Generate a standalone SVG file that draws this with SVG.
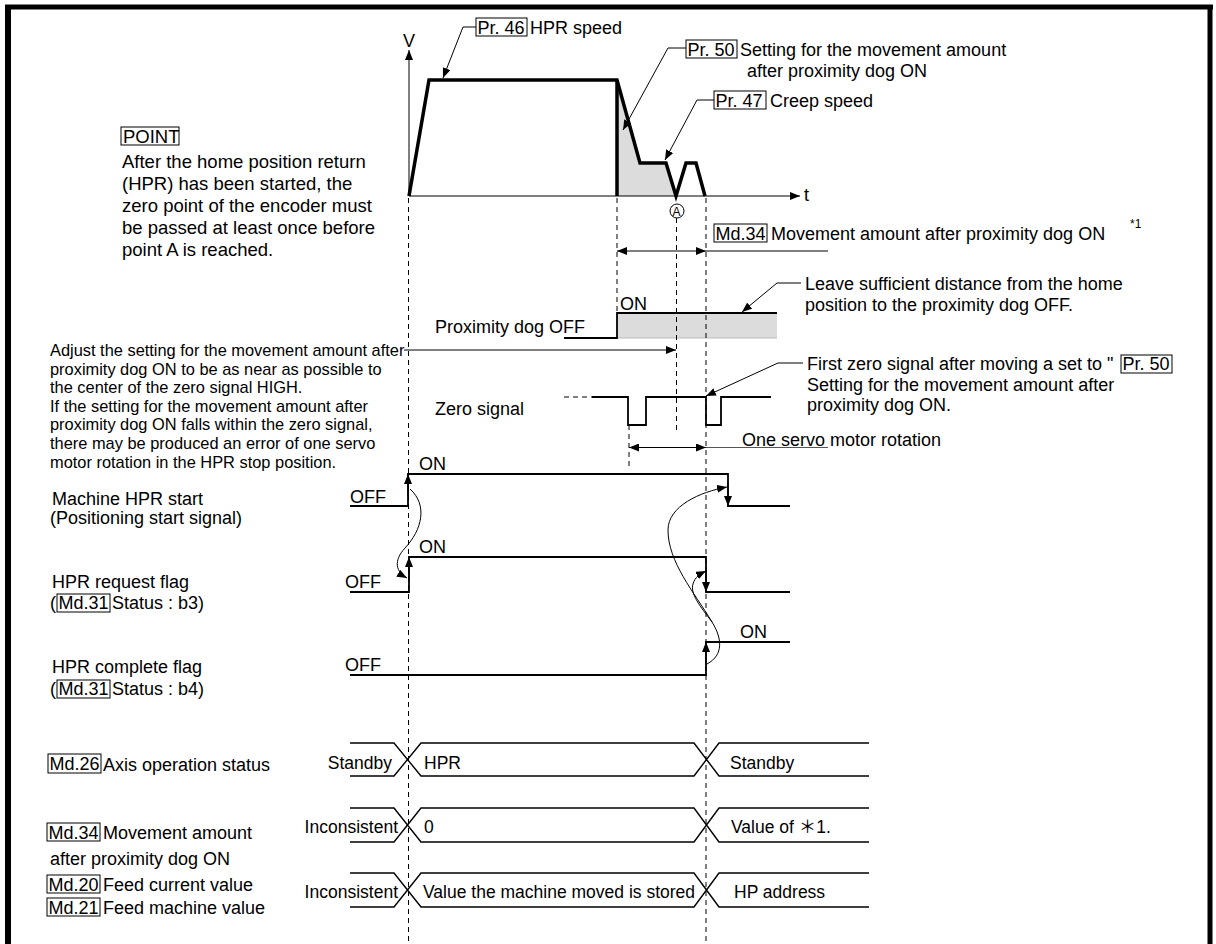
<svg xmlns="http://www.w3.org/2000/svg" width="1216" height="944" viewBox="0 0 1216 944">
<defs>
<style>
text{font-family:"Liberation Sans",Arial,"Noto Sans CJK JP",sans-serif;fill:#000;font-size:18px}
.s{font-size:16.4px}
.p{font-size:18.5px}
.r{font-size:17.5px}
.sm{font-size:12px}
.box{fill:none;stroke:#000;stroke-width:1}
.thin{fill:none;stroke:#000;stroke-width:1}
.sig{fill:none;stroke:#000;stroke-width:1.8}
.bus{fill:none;stroke:#000;stroke-width:1.4}
.dash{fill:none;stroke:#000;stroke-width:1;stroke-dasharray:5 4}
.grey{fill:#dcdcdc;stroke:none}
</style>
<marker id="ah" markerUnits="userSpaceOnUse" markerWidth="10" markerHeight="8" refX="10" refY="4" orient="auto-start-reverse" viewBox="0 0 10 8">
<path d="M0,0 L10,4 L0,8 Z" fill="#000"/>
</marker>
</defs>
<rect width="1216" height="944" fill="#fff"/>
<g id="frame">
<line x1="5" y1="7" x2="1213" y2="7" stroke="#000" stroke-width="5"/>
<line x1="8" y1="5" x2="8" y2="944" stroke="#000" stroke-width="6"/>
<line x1="1210" y1="5" x2="1210" y2="944" stroke="#000" stroke-width="5"/>
</g>
<g id="speed-chart">
<polygon class="grey" points="617,80 640,163 666,163 676,196 617,196"/>
<line class="thin" x1="409" y1="196" x2="409" y2="50" stroke-width="1.2" marker-end="url(#ah)"/>
<line class="thin" x1="409" y1="196" x2="800" y2="196" stroke-width="1.2" marker-end="url(#ah)"/>
<path d="M409,196 L429,80 L617,80 L640,163 L666,163 L676,196 L686,163 L696,163 L705,196" fill="none" stroke="#000" stroke-width="3.5" stroke-linejoin="miter"/>
<line x1="617" y1="80" x2="617" y2="196" stroke="#000" stroke-width="3.5"/>
<text x="403" y="47">V</text>
<text x="804" y="201">t</text>
<circle cx="677" cy="211" r="7" fill="#fff" stroke="#000" stroke-width="1"/>
<text x="672.5" y="215.5" class="sm">A</text>
</g>
<g id="label-pr46">
<rect class="box" x="476" y="18" width="51" height="18"/>
<text x="477.5" y="33.5">Pr. 46</text>
<text x="530" y="33.5">HPR speed</text>
</g>
<g id="label-pr50">
<rect class="box" x="686" y="40" width="51" height="18"/>
<text x="687.5" y="55.5">Pr. 50</text>
<text x="740" y="55.5">Setting for the movement amount</text>
<text x="747" y="77">after proximity dog ON</text>
</g>
<g id="label-pr47">
<rect class="box" x="714" y="91" width="52" height="18"/>
<text x="715.5" y="106.5">Pr. 47</text>
<text x="770" y="106.5">Creep speed</text>
</g>
<g id="point-note">
<rect class="box" x="121" y="127" width="58" height="18"/>
<text class="p" x="123" y="142.5">POINT</text>
<text class="p" x="122" y="168">After the home position return</text>
<text class="p" x="122" y="190">(HPR) has been started, the</text>
<text class="p" x="122" y="212">zero point of the encoder must</text>
<text class="p" x="122" y="234">be passed at least once before</text>
<text class="p" x="122" y="256">point A is reached.</text>
</g>
<g id="label-md34-top">
<rect class="box" x="714" y="224" width="53" height="18"/>
<text x="715.5" y="239.5">Md.34</text>
<text x="771" y="239.5">Movement amount after proximity dog ON</text>
<text class="sm" x="1130" y="228">*1</text>
</g>
<g id="proximity-dog">
<rect class="grey" x="617" y="313" width="160" height="25"/>
<line x1="617" y1="338" x2="777" y2="338" stroke="#bbb" stroke-width="1"/>
<path class="sig" d="M564,338 H617 V313 H777" stroke-width="1.6"/>
<text x="435" y="333">Proximity dog OFF</text>
<text x="620" y="310">ON</text>
<text x="805" y="290">Leave sufficient distance from the home</text>
<text x="805" y="311">position to the proximity dog OFF.</text>
</g>
<g id="adjust-note">
<text class="s" x="50" y="356">Adjust the setting for the movement amount after</text>
<text class="s" x="50" y="374.6">proximity dog ON to be as near as possible to</text>
<text class="s" x="50" y="393.2">the center of the zero signal HIGH.</text>
<text class="s" x="50" y="411.8">If the setting for the movement amount after</text>
<text class="s" x="50" y="430.4">proximity dog ON falls within the zero signal,</text>
<text class="s" x="50" y="449">there may be produced an error of one servo</text>
<text class="s" x="50" y="467.6">motor rotation in the HPR stop position.</text>
</g>
<g id="zero-signal">
<line class="dash" x1="564" y1="397" x2="592" y2="397" stroke-width="1.4"/>
<path class="sig" d="M592,397 H628 V425 H646 V397 H706 V425 H721 V397 H771" stroke-width="1.6"/>
<text x="435" y="415">Zero signal</text>
<text x="807" y="370">First zero signal after moving a set to "</text>
<rect class="box" x="1121" y="355" width="51" height="18"/>
<text x="1122.5" y="370">Pr. 50</text>
<text x="807" y="391">Setting for the movement amount after</text>
<text x="807" y="411">proximity dog ON.</text>
<text x="742" y="446">One servo motor rotation</text>
</g>
<g id="signal-hpr-start">
<path class="sig" d="M350,506 H408 V474 H728 V506 H790"/>
<text x="350" y="503">OFF</text>
<text x="419" y="470">ON</text>
<text x="52" y="505">Machine HPR start</text>
<text x="50" y="524">(Positioning start signal)</text>
</g>
<g id="signal-hpr-request">
<path class="sig" d="M350,592 H409 V557 H706 V592 H790"/>
<text x="345" y="588">OFF</text>
<text x="419" y="553">ON</text>
<text x="52" y="588">HPR request flag</text>
<text x="50" y="609">(</text>
<rect class="box" x="57" y="594" width="53" height="18"/>
<text x="58.5" y="609">Md.31</text>
<text x="112" y="609">Status : b3)</text>
</g>
<g id="signal-hpr-complete">
<path class="sig" d="M350,675 H706 V642 H790"/>
<text x="345" y="671">OFF</text>
<text x="740" y="638">ON</text>
<text x="52" y="673">HPR complete flag</text>
<text x="50" y="695">(</text>
<rect class="box" x="57" y="680" width="53" height="18"/>
<text x="58.5" y="695">Md.31</text>
<text x="112" y="695">Status : b4)</text>
</g>
<g id="row-md26">
<rect class="box" x="48" y="754" width="53" height="19"/>
<text x="49.5" y="770">Md.26</text>
<text x="103" y="771">Axis operation status</text>
<path class="bus" d="M350,743 H394 L421,776 H694 L719,743 H869 M350,776 H394 L421,743 H694 L719,776 H869"/>
<text class="r" x="392" y="769" text-anchor="end">Standby</text>
<text class="r" x="424" y="769">HPR</text>
<text class="r" x="730" y="769">Standby</text>
</g>
<g id="row-md34">
<rect class="box" x="47" y="823" width="53" height="18"/>
<text x="48.5" y="838.5">Md.34</text>
<text x="103" y="838.5">Movement amount</text>
<text x="50" y="865">after proximity dog ON</text>
<path class="bus" d="M350,808 H394 L421,842 H694 L719,808 H869 M350,842 H394 L421,808 H694 L719,842 H869"/>
<text class="r" x="398" y="833" text-anchor="end">Inconsistent</text>
<text class="r" x="424" y="833">0</text>
<text class="r" x="731" y="833">Value of ＊1.</text>
</g>
<g id="row-md20-21">
<rect class="box" x="47" y="875" width="53" height="18"/>
<text x="48.5" y="890.5">Md.20</text>
<text x="103" y="891">Feed current value</text>
<rect class="box" x="47" y="898" width="53" height="18"/>
<text x="48.5" y="913.5">Md.21</text>
<text x="103" y="914">Feed machine value</text>
<path class="bus" d="M350,873 H394 L421,907 H694 L719,873 H869 M350,907 H394 L421,873 H694 L719,907 H869"/>
<text class="r" x="398" y="898" text-anchor="end">Inconsistent</text>
<text class="r" x="423" y="898">Value the machine moved is stored</text>
<text class="r" x="734" y="898">HP address</text>
</g>
<g id="connectors">
<line class="dash" x1="408.5" y1="198" x2="408.5" y2="944"/>
<line class="dash" x1="617" y1="198" x2="617" y2="313"/>
<line class="dash" x1="676.5" y1="218" x2="676.5" y2="430"/>
<line class="dash" x1="706" y1="198" x2="706" y2="944"/>
<line class="dash" x1="629" y1="425" x2="629" y2="468"/>
<polyline class="thin" points="476,27 463,27 443,78" marker-end="url(#ah)"/>
<polyline class="thin" points="686,48 668,48 623,130" marker-end="url(#ah)"/>
<polyline class="thin" points="714,100 697,100 665,160" marker-end="url(#ah)"/>
<line class="thin" x1="617" y1="251" x2="706" y2="251" stroke-width="1.2" marker-start="url(#ah)" marker-end="url(#ah)"/>
<line class="thin" x1="706" y1="251" x2="828" y2="251" stroke-width="1.2"/>
<polyline class="thin" points="801,283 777,283 742,312" marker-end="url(#ah)"/>
<line class="thin" x1="404" y1="350" x2="676" y2="350" stroke-width="1.2" marker-end="url(#ah)"/>
<polyline class="thin" points="803,363 778,363 706,396" marker-end="url(#ah)"/>
<line class="thin" x1="629" y1="447.5" x2="706" y2="447.5" stroke-width="1.2" marker-start="url(#ah)" marker-end="url(#ah)"/>
<line x1="706" y1="447.5" x2="828" y2="447.5" stroke="#555" stroke-width="1"/>
<line class="thin" x1="408" y1="495" x2="408" y2="474" marker-end="url(#ah)"/>
<line class="thin" x1="728" y1="482" x2="728" y2="506" marker-end="url(#ah)"/>
<line class="thin" x1="409" y1="580" x2="409" y2="557" marker-end="url(#ah)"/>
<line class="thin" x1="706" y1="568" x2="706" y2="592" marker-end="url(#ah)"/>
<line class="thin" x1="706" y1="665" x2="706" y2="642" marker-end="url(#ah)"/>
<path class="thin" d="M410,489 C428,505 422,530 405,548 C393,561 396,572 407,578" marker-end="url(#ah)"/>
<path class="thin" d="M707,664 C724,655 722,638 712,622 C694,592 668,562 668,530 C668,506 700,492 727,487" marker-end="url(#ah)"/>
<path class="thin" d="M712,622 C700,606 690,594 693,584 C695,577 700,574 706,571" marker-end="url(#ah)"/>
</g>
</svg>
